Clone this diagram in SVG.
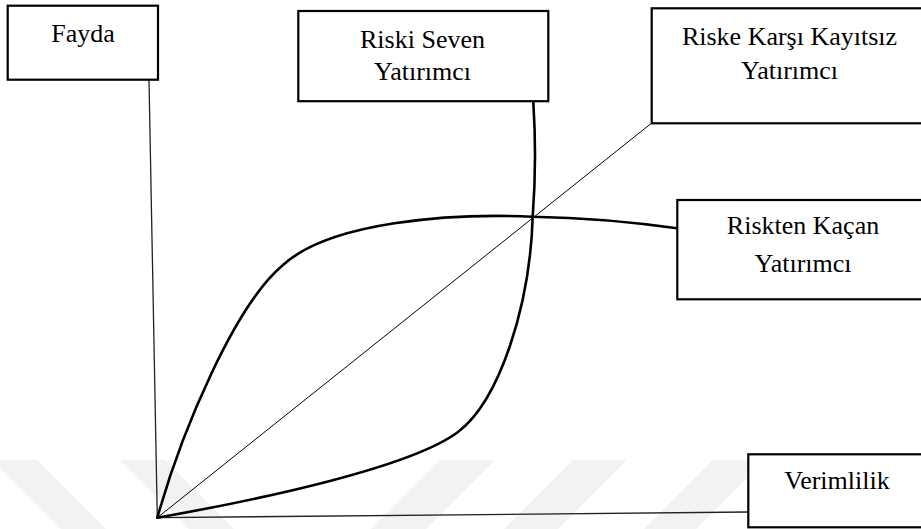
<svg xmlns="http://www.w3.org/2000/svg" width="921" height="529" viewBox="0 0 921 529">
<style>
.box{fill:#ffffff;stroke:#000000;stroke-width:2.2}
.lbl{font-family:'Liberation Serif','Times New Roman',Times,serif;font-size:26px;fill:#000000;text-anchor:middle}
.axis{fill:none;stroke:#222222;stroke-width:1.3}
.thin{fill:none;stroke:#000000;stroke-width:1}
.curve{fill:none;stroke:#000000;stroke-width:2.6;stroke-linecap:round}
.wm{fill:#f2f2f2}
</style>
<rect x="0" y="0" width="921" height="529" fill="#ffffff"/>
<g id="watermark">
<polygon class="wm" points="-8,460 37,460 106,529 61,529"/>
<polygon class="wm" points="120,460 165,460 234,529 189,529"/>
<polygon class="wm" points="440,460 495,460 426,529 371,529"/>
<polygon class="wm" points="573,460 627,460 558,529 504,529"/>
<polygon class="wm" points="713,460 765,460 696,529 644,529"/>
</g>
<g id="connectors">
<line class="axis" x1="149" y1="80" x2="157.3" y2="517.7"/>
<line class="axis" x1="157.3" y1="517.7" x2="748" y2="512"/>
<line class="thin" x1="157.3" y1="517.7" x2="651.7" y2="123"/>
<path class="curve" d="M157.3,517.7 C182,430 235,305 283,265 C330,222 450,213 532.7,216.7 Q605,218 677,228.3"/>
<path class="curve" d="M157.3,517.7 C257,500 410,468 458,432 C500,400 530,305 532.7,216.7 Q537,160 533.3,102"/>
</g>
<g id="fayda">
<rect class="box" x="7.7" y="5.7" width="150.3" height="74"/>
<text class="lbl" x="83" y="41.7">Fayda</text>
</g>
<g id="riski-seven">
<rect class="box" x="298.3" y="11" width="250" height="90.2"/>
<text class="lbl" x="422.5" y="47.7">Riski Seven</text>
<text class="lbl" x="422.5" y="80">Yatırımcı</text>
</g>
<g id="riske-karsi-kayitsiz">
<rect class="box" x="651.7" y="8.3" width="280" height="115"/>
<text class="lbl" x="789.5" y="45">Riske Karşı Kayıtsız</text>
<text class="lbl" x="789.5" y="79">Yatırımcı</text>
</g>
<g id="riskten-kacan">
<rect class="box" x="677.3" y="200" width="260" height="99.3"/>
<text class="lbl" x="803" y="234.3">Riskten Kaçan</text>
<text class="lbl" x="803" y="271.7">Yatırımcı</text>
</g>
<g id="verimlilik">
<rect class="box" x="748.3" y="454.3" width="190" height="73"/>
<text class="lbl" x="837" y="489.3">Verimlilik</text>
</g>
</svg>
